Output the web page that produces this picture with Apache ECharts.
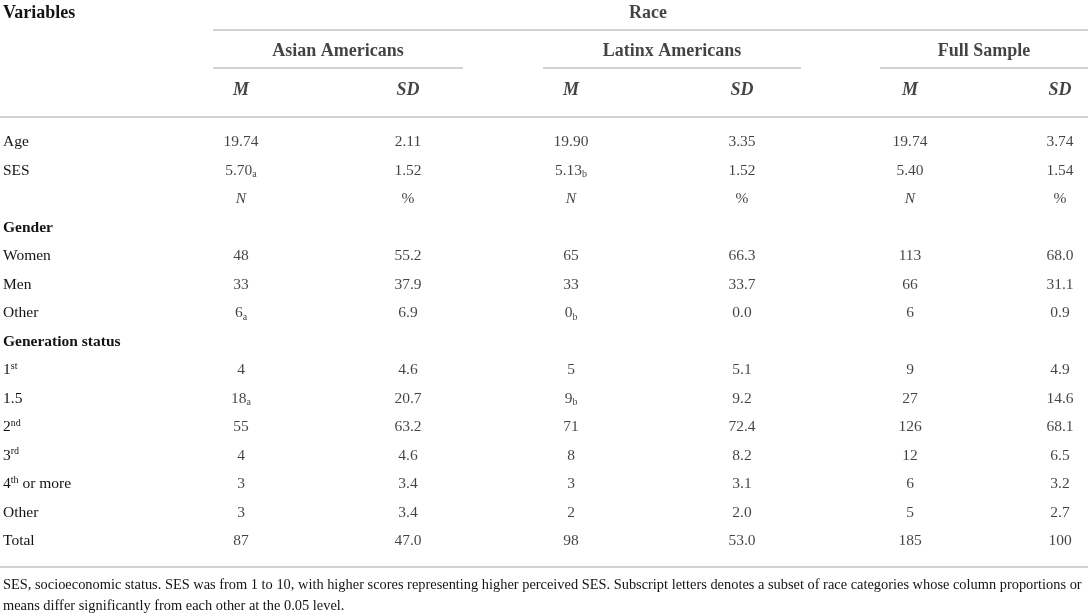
<!DOCTYPE html>
<html>
<head>
<meta charset="utf-8">
<title>Race table</title>
<script src="https://cdn.jsdelivr.net/npm/echarts@6.0.0/dist/echarts.min.js"></script>
<style>
  html, body { margin: 0; padding: 0; background: #fff; }
  #main { width: 1091px; height: 616px; }
</style>
</head>
<body>
<div id="main"></div>
<script>
// 表格数据：**粗体** *斜体* _{下标} ^{上标}
var rowLabels = ['Age', 'SES', '', '**Gender**', 'Women', 'Men', 'Other', '**Generation status**',
  '1^{st}', '1.5', '2^{nd}', '3^{rd}', '4^{th} or more', 'Other', 'Total'];
var asianM = ['19.74', '5.70_{a}', '*N*', '', '48', '33', '6_{a}', '', '4', '18_{a}', '55', '4', '3', '3', '87'];
var asianSD = ['2.11', '1.52', '%', '', '55.2', '37.9', '6.9', '', '4.6', '20.7', '63.2', '4.6', '3.4', '3.4', '47.0'];
var latinxM = ['19.90', '5.13_{b}', '*N*', '', '65', '33', '0_{b}', '', '5', '9_{b}', '71', '8', '3', '2', '98'];
var latinxSD = ['3.35', '1.52', '%', '', '66.3', '33.7', '0.0', '', '5.1', '9.2', '72.4', '8.2', '3.1', '2.0', '53.0'];
var fullM = ['19.74', '5.40', '*N*', '', '113', '66', '6', '', '9', '27', '126', '12', '6', '5', '185'];
var fullSD = ['3.74', '1.54', '%', '', '68.0', '31.1', '0.9', '', '4.9', '14.6', '68.1', '6.5', '3.2', '2.7', '100'];

var headLabels = ['Variables', '', ''];
var topHead = 'Race';
var groupNames = ['Asian Americans', 'Latinx Americans', 'Full Sample'];
var statNames = ['M', 'SD', 'M', 'SD', 'M', 'SD'];
var noteLines = [
  'SES, socioeconomic status. SES was from 1 to 10, with higher scores representing higher perceived SES. Subscript letters denotes a subset of race categories whose column proportions or',
  'means differ significantly from each other at the 0.05 level.'
];

// 版式：列中心位置（x轴单位=像素）
var colX = [241, 408, 571, 742, 910, 1060];
var groupSpan = [[213, 463], [543, 801], [880, 1088]];
var raceX = 648;
var FONT = '"Liberation Serif", "DejaVu Serif", serif';
var INK = '#141414';
var RULE = '#d2d2d2';

// 把简单标记转成 echarts rich 文本
function toRich(s) {
  if (!s) return '';
  var parts = s.split(/(\*\*[^*]+\*\*|\*[^*]+\*|_\{[^}]+\}|\^\{[^}]+\})/);
  var out = '';
  parts.forEach(function (p) {
    if (!p) return;
    if (p.indexOf('**') === 0) out += '{b|' + p.slice(2, -2) + '}';
    else if (p[0] === '*') out += '{i|' + p.slice(1, -1) + '}';
    else if (p[0] === '_') out += '{sub|' + p.slice(2, -1) + '}';
    else if (p[0] === '^') out += '{sup|' + p.slice(2, -1) + '}';
    else out += '{n|' + p + '}';
  });
  return out;
}

var BODY = 15.5;
var HEAD = 18;
var rich = {
  n: { fontFamily: FONT, fontSize: BODY, lineHeight: 18, color: INK },
  b: { fontFamily: FONT, fontSize: BODY, lineHeight: 18, fontWeight: 'bold', color: INK },
  i: { fontFamily: FONT, fontSize: BODY, lineHeight: 18, fontStyle: 'italic', color: INK },
  sub: { fontFamily: FONT, fontSize: 10, lineHeight: 10, verticalAlign: 'bottom', color: INK },
  sup: { fontFamily: FONT, fontSize: 10, lineHeight: 10, verticalAlign: 'top', color: INK }
};

var bodyCols = [asianM, asianSD, latinxM, latinxSD, fullM, fullSD];

function textSeries(gridIdx, points, extraLabel) {
  return {
    type: 'scatter',
    xAxisIndex: gridIdx,
    yAxisIndex: gridIdx,
    symbolSize: 1,
    silent: true,
    itemStyle: { color: 'transparent' },
    data: points.map(function (p) { return { value: [p[0], p[1]], txt: p[2] }; }),
    label: Object.assign({
      show: true,
      position: 'inside',
      rich: rich,
      formatter: function (params) { return toRich(params.data.txt); }
    }, extraLabel || {})
  };
}

// 表头文字不走 rich，直接用大号粗体
var headLabel = {
  fontFamily: FONT, fontSize: HEAD, fontWeight: 'bold', color: INK,
  formatter: function (params) { return params.data.txt; }
};

var series = [];
// 表体
bodyCols.forEach(function (col, c) {
  series.push(textSeries(1, col.map(function (v, r) { return [colX[c], r, v]; })));
});
// 表头
series.push(textSeries(0, [[raceX, 0, topHead]], headLabel));
series.push(textSeries(0, groupNames.map(function (g, k) {
  return [(groupSpan[k][0] + groupSpan[k][1]) / 2, 1, g];
}), headLabel));
series.push(textSeries(0, statNames.map(function (s, k) { return [colX[k], 2, s]; }),
  Object.assign({}, headLabel, { fontStyle: 'italic' })));

function xAx(idx) {
  return { type: 'value', gridIndex: idx, min: 0, max: 1091, show: false };
}
function yAx(idx, labels, labelStyle) {
  return {
    type: 'category', gridIndex: idx, data: labels, inverse: true, boundaryGap: false,
    axisLine: { show: false }, axisTick: { show: false }, splitLine: { show: false },
    axisLabel: Object.assign({
      show: true, inside: true, margin: 3, align: 'left', interval: 0
    }, labelStyle)
  };
}

// 横线
var rules = [[213, 1088, 30], [0, 1088, 117], [0, 1088, 567]];
groupSpan.forEach(function (s) { rules.push([s[0], s[1], 68]); });
var graphic = rules.map(function (r) {
  return {
    type: 'line', silent: true,
    shape: { x1: r[0], y1: r[2], x2: r[1], y2: r[2] },
    style: { stroke: RULE, lineWidth: 2 }
  };
});
graphic.push({
  type: 'text', left: 3, top: 575, silent: true,
  style: { text: noteLines.join('\n'), font: '14.4px ' + FONT, fill: INK, lineHeight: 21 }
});

var option = {
  animation: false,
  backgroundColor: '#fff',
  grid: [
    { left: 0, right: 0, top: 13, height: 77 },
    { left: 0, right: 0, top: 142, height: 399 }
  ],
  xAxis: [xAx(0), xAx(1)],
  yAxis: [
    yAx(0, headLabels, { fontFamily: FONT, fontSize: HEAD, fontWeight: 'bold', color: INK }),
    yAx(1, rowLabels, { rich: rich, formatter: function (v) { return toRich(v); } })
  ],
  graphic: graphic,
  series: series
};

var chart = echarts.init(document.getElementById('main'));
chart.setOption(option);
</script>
</body>
</html>
